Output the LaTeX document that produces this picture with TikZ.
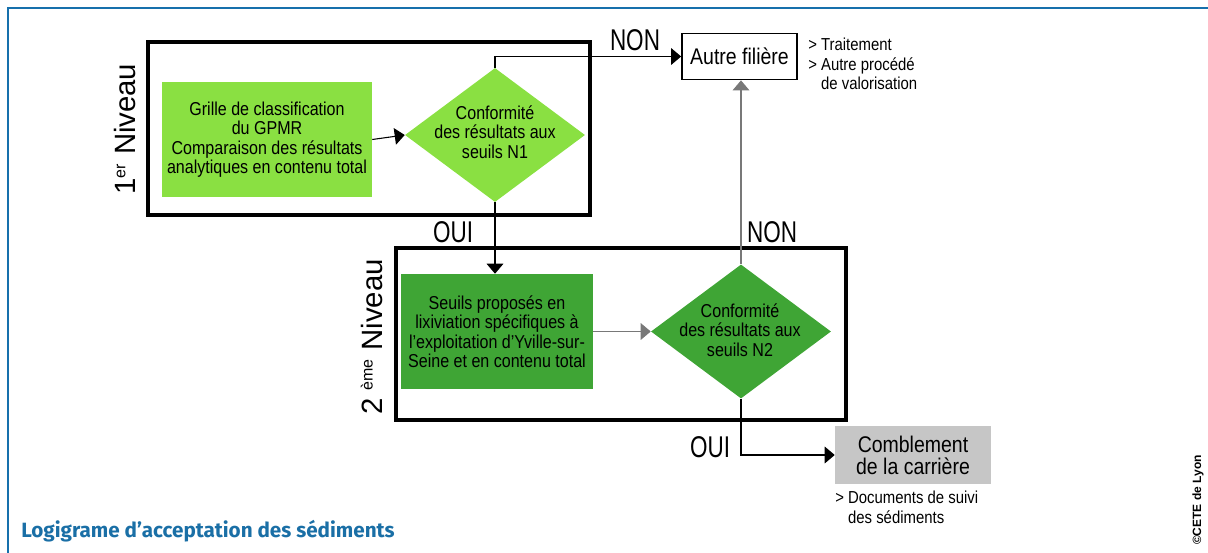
\documentclass[tikz,border=0pt]{standalone}
\usepackage{fontspec}
\setmainfont{Liberation Sans}
\newfontfamily\cond{Liberation Sans}[FakeStretch=0.86]
\newfontfamily\narrowf{Liberation Sans}[FakeStretch=0.75]
\newfontfamily\titlef{Fira Sans}
\usetikzlibrary{shapes.geometric,arrows.meta}
\definecolor{lgreen}{RGB}{138,224,66}
\definecolor{dgreen}{RGB}{63,165,53}
\definecolor{boxgray}{RGB}{198,198,198}
\definecolor{frameblue}{RGB}{22,112,172}
\definecolor{titleblue}{RGB}{26,111,166}
\definecolor{linegray}{RGB}{120,120,120}
\tikzset{
  lvlbox/.style={draw=black,line width=3pt},
  greenbox/.style={rectangle,inner sep=0pt,align=center,font=\cond\fontsize{14}{14.6}\selectfont},
  dia/.style={diamond,inner sep=0pt,minimum width=135pt,minimum height=100.5pt},
  diatext/.style={align=center,font=\cond\fontsize{14}{14.6}\selectfont},
  bigtxt/.style={font=\narrowf\fontsize{22.5}{24}\selectfont},
  note/.style={align=left,font=\cond\fontsize{13}{14.6}\selectfont,inner sep=0pt},
  conn/.style={line width=0.8pt,-{Triangle[length=7.5pt,width=12.5pt]}},
  lvllabel/.style={rotate=90,font=\fontsize{22}{24}\selectfont,inner sep=0pt}
}
\begin{document}
\begin{tikzpicture}[x=0.75pt,y=-0.75pt]
\useasboundingbox (0,0) rectangle (1208,553);
% frame
\draw[frameblue,line width=1.9pt] (8,553) -- (8,8) -- (1208,8);
% level boxes
\draw[lvlbox] (148,42) rectangle (590,215);
\draw[lvlbox] (396,248) rectangle (846,420);
% nodes
\node[greenbox,fill=lgreen,minimum width=157.5pt,minimum height=86.25pt] (g1) at (267,139.5)
  {Grille de classification\\du GPMR\\Comparaison des résultats\\analytiques en contenu total};
\node[dia,fill=lgreen] (d1) at (495,135) {};
\node[diatext] (d1t) at (495,132) {Conformité\\des résultats aux\\seuils N1};
\node[draw=black,line width=1.3pt,minimum width=86.25pt,minimum height=34.5pt,inner sep=0pt,
  font=\cond\fontsize{17}{18}\selectfont] (af) at (739.5,56.5) {Autre filière};
\node[note,anchor=north west] (afn) at (808,38)
  {> Traitement\\> Autre procédé\\\phantom{> }de valorisation};
\node[greenbox,fill=dgreen,minimum width=144pt,minimum height=86.25pt] (g2) at (497,331.5)
  {Seuils proposés en\\lixiviation spécifiques à\\l’exploitation d’Yville-sur-\\Seine et en contenu total};
\node[dia,fill=dgreen] (d2) at (741,331.5) {};
\node[diatext] (d2t) at (740,330) {Conformité\\des résultats aux\\seuils N2};
\node[rectangle,fill=boxgray,minimum width=117pt,minimum height=43.5pt,inner sep=0pt,align=center,
  font=\cond\fontsize{17}{16.5}\selectfont] (cb) at (913,455) {Comblement\\de la carrière};
\node[note,anchor=north west] (cbn) at (835,491)
  {> Documents de suivi\\\phantom{> }des sédiments};
% connectors
\draw[conn] (g1.east) -- (d1.west);
\draw[conn] (d1.north) |- (af.west);
\draw[conn] (d1.south) -- (d1.south |- g2.north);
\draw[conn,linegray] (g2.east) -- (d2.west);
\draw[conn,linegray] (d2.north) -- (d2.north |- af.south);
\draw[conn] (d2.south) |- (cb.west);
% labels
\node[bigtxt] (non1) at (635,40) {NON};
\node[bigtxt] (oui1) at (453,232) {OUI};
\node[bigtxt] (non2) at (772,232) {NON};
\node[bigtxt] (oui2) at (710,447) {OUI};
\node[lvllabel] (lv1) at (125,129) {1\textsuperscript{\fontsize{12}{12}\selectfont er} Niveau};
\node[lvllabel] (lv2) at (372,337) {2 \textsuperscript{\fontsize{12}{12}\selectfont ème} Niveau};
\node[rotate=90,font=\bfseries\fontsize{9}{9}\selectfont,inner sep=0pt] (cete) at (1198,500) {©CETE de Lyon};
\node[anchor=west,inner sep=0pt,text=titleblue,font=\titlef\bfseries\fontsize{15.5}{16}\selectfont] (title) at (21,531)
  {Logigrame d’acceptation des sédiments};
\end{tikzpicture}
\end{document}
